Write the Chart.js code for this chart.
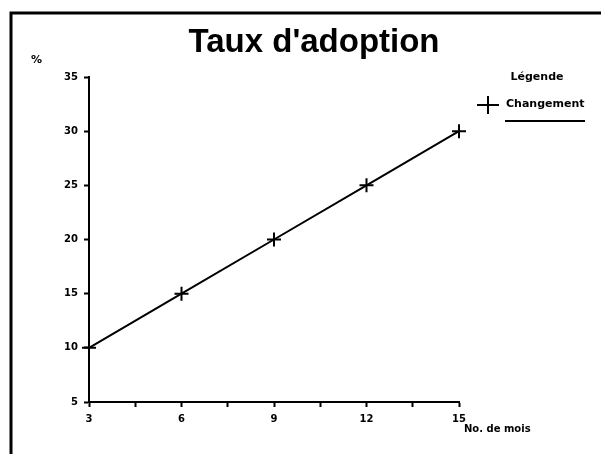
<!DOCTYPE html>
<html>
<head>
<meta charset="utf-8">
<script src="https://cdn.jsdelivr.net/npm/chart.js@4"></script>
<style>
  html, body { margin: 0; padding: 0; background: #fff; }
  #wrap { width: 601px; height: 459px; }
</style>
</head>
<body>
<div id="wrap"><canvas id="chart" width="601" height="459"></canvas></div>
<script>
// Taux d'adoption data
const months = [3, 6, 9, 12, 15];
const adoption = [10, 15, 20, 25, 30];
const seriesName = 'Changement';
const chartTitle = "Taux d'adoption";
const yTicks = [5, 10, 15, 20, 25, 30, 35];
const xLabelTicks = [3, 6, 9, 12, 15];

const ink = '#000';
const smallFont = 'bold 11px "DejaVu Sans", sans-serif';

// frame, title, unit labels and the hand-placed legend
const decorations = {
  id: 'decorations',
  afterDraw(chart) {
    const ctx = chart.ctx;
    ctx.save();
    ctx.strokeStyle = ink;
    ctx.fillStyle = ink;

    // page frame (top and left only)
    ctx.lineWidth = 3;
    ctx.beginPath();
    ctx.moveTo(601, 13);
    ctx.lineTo(11, 13);
    ctx.lineTo(11, 454);
    ctx.stroke();

    // title sits off-centre, over the whole page
    ctx.font = 'bold 33px "Liberation Sans", Arial, sans-serif';
    ctx.textAlign = 'center';
    ctx.textBaseline = 'alphabetic';
    ctx.fillText(chartTitle, 314, 52);

    ctx.font = smallFont;
    ctx.textBaseline = 'middle';
    ctx.textAlign = 'left';
    ctx.fillText('%', 31, 60);
    ctx.font = 'bold 10px "DejaVu Sans", sans-serif';
    ctx.fillText('No. de mois', 464, 429);

    // legend
    ctx.font = smallFont;
    ctx.textAlign = 'center';
    ctx.fillText('Légende', 537, 77);
    ctx.textAlign = 'left';
    ctx.fillText(seriesName, 506, 104);
    ctx.lineWidth = 2;
    ctx.beginPath();
    ctx.moveTo(477, 105); ctx.lineTo(499, 105);
    ctx.moveTo(488, 96); ctx.lineTo(488, 114);
    ctx.moveTo(505, 121); ctx.lineTo(585, 121);
    ctx.stroke();
    ctx.restore();
  }
};

new Chart(document.getElementById('chart'), {
  type: 'line',
  data: {
    datasets: [{
      label: seriesName,
      data: months.map((m, i) => ({ x: m, y: adoption[i] })),
      borderColor: ink,
      borderWidth: 2,
      pointStyle: 'cross',
      pointRadius: 7,
      pointBorderWidth: 2,
      pointBorderColor: ink,
      tension: 0,
      clip: false
    }]
  },
  options: {
    responsive: false,
    animation: false,
    layout: { padding: { left: 10, right: 142, top: 77, bottom: 17 } },
    plugins: {
      legend: { display: false },
      tooltip: { enabled: false },
      title: { display: false }
    },
    scales: {
      x: {
        type: 'linear',
        min: 3,
        max: 15,
        afterBuildTicks(scale) {
          const t = [];
          for (let v = 3; v <= 15; v += 1.5) t.push({ value: v });
          scale.ticks = t;
        },
        afterFit(scale) { scale.height = 40; },
        border: { display: true, color: ink, width: 2 },
        grid: { drawOnChartArea: false, drawTicks: true, tickLength: 5, tickWidth: 2, color: ink },
        ticks: {
          color: ink,
          padding: 6,
          autoSkip: false,
          maxRotation: 0,
          font: { family: '"DejaVu Sans", sans-serif', size: 10, weight: 'bold' },
          callback: v => xLabelTicks.includes(v) ? String(v) : ''
        }
      },
      y: {
        min: 5,
        max: 35,
        afterBuildTicks(scale) { scale.ticks = yTicks.map(v => ({ value: v })); },
        afterFit(scale) { scale.width = 79; },
        border: { display: true, color: ink, width: 2 },
        grid: { drawOnChartArea: false, drawTicks: true, tickLength: 5, tickWidth: 2, color: ink },
        ticks: {
          color: ink,
          padding: 6,
          font: { family: '"DejaVu Sans", sans-serif', size: 10, weight: 'bold' }
        }
      }
    }
  },
  plugins: [decorations]
});
</script>
</body>
</html>
